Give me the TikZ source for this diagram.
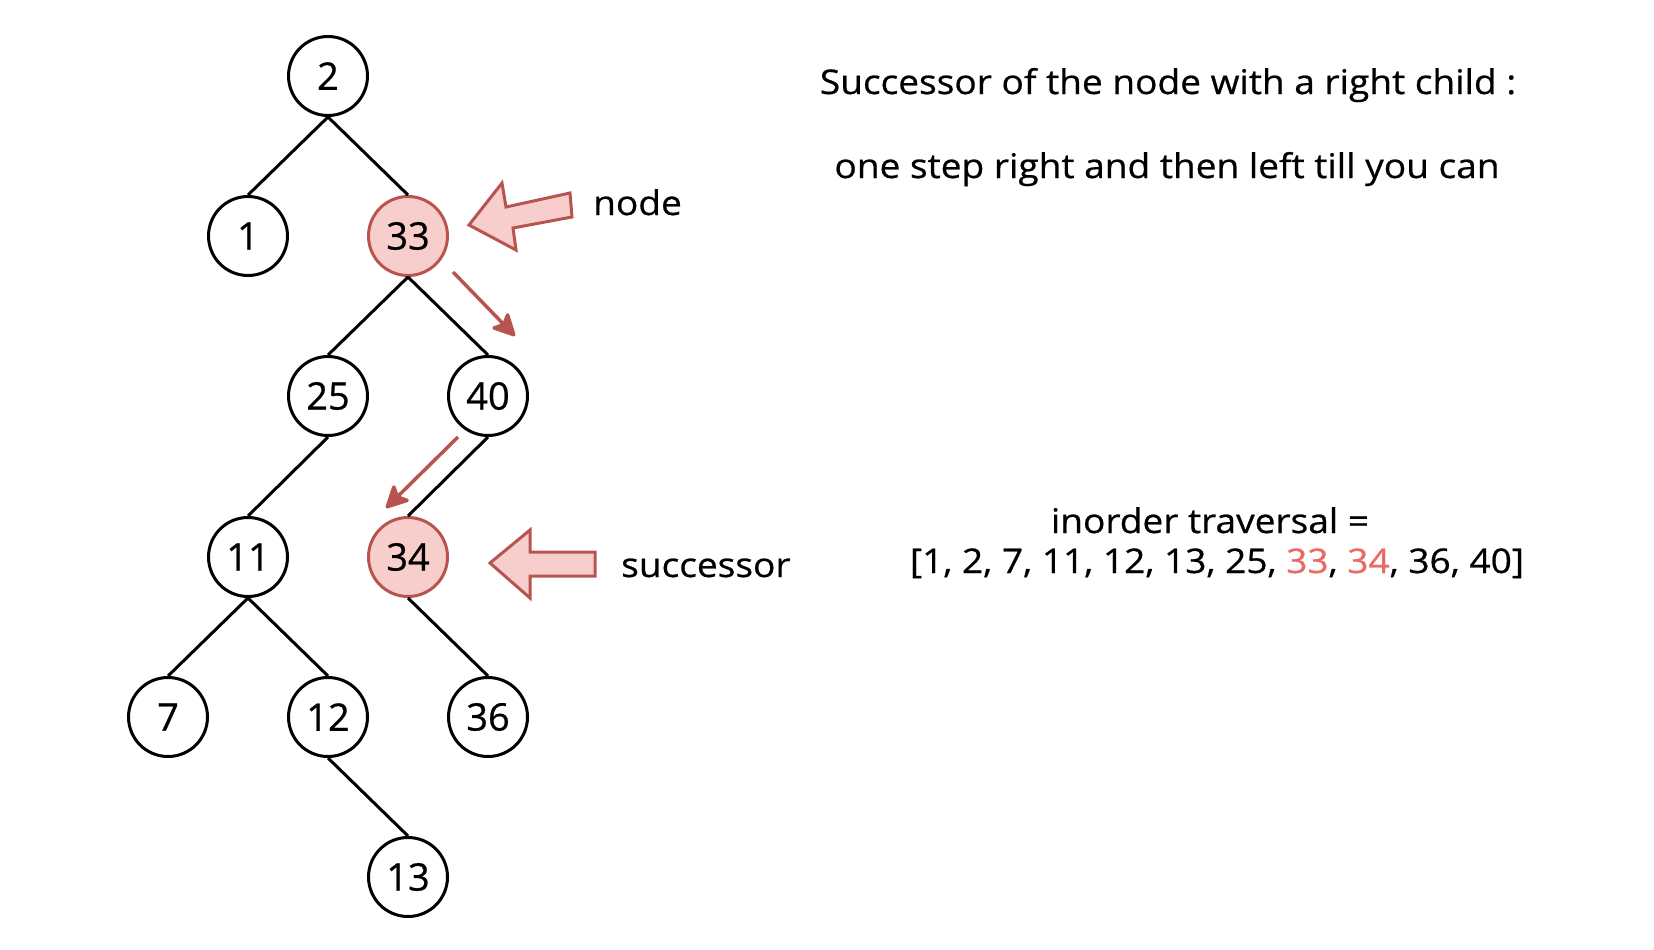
\documentclass[tikz,border=0pt]{standalone}
\usepackage{fontspec}
\setmainfont{Open Sans}[FakeBold=0.6]
\newfontfamily\widefont{Open Sans}[FakeStretch=1.09,FakeBold=0.6]
\usetikzlibrary{arrows.meta}
\definecolor{redline}{HTML}{B85450}
\definecolor{redfill}{HTML}{F8CECC}
\definecolor{redtext}{HTML}{EA6B66}
\begin{document}
\begin{tikzpicture}[x=1pt,y=-1pt,
  tn/.style={circle,draw=black,line width=3pt,minimum size=79pt,inner sep=0pt,
    font=\fontsize{38}{42}\selectfont},
  hl/.style={tn,draw=redline,fill=redfill},
  edge/.style={draw=black,line width=3pt},
  txt/.style={inner sep=0pt,anchor=base,font=\widefont\fontsize{34}{40}\selectfont},
  blockarrow/.style={draw=redline,fill=redfill,line width=3pt,line join=miter},
  movearrow/.style={draw=redline,line width=3.5pt,
    -{Stealth[length=26pt,width=26pt,inset=6pt,round=false]}}]
\useasboundingbox (0,0) rectangle (1654,950);
% tree nodes
\node[tn] (n2)  at (328,76)  {2};
\node[tn] (n1)  at (248,236) {1};
\node[hl] (n33) at (408,236) {33};
\node[tn] (n25) at (328,396) {25};
\node[tn] (n40) at (488,396) {40};
\node[tn] (n11) at (248,557) {11};
\node[hl] (n34) at (408,557) {34};
\node[tn] (n7)  at (168,717) {7};
\node[tn] (n12) at (328,717) {12};
\node[tn] (n36) at (488,717) {36};
\node[tn] (n13) at (408,877) {13};
% edges
\draw[edge] (n2.south) -- (n1.north);
\draw[edge] (n2.south) -- (n33.north);
\draw[edge] (n33.south) -- (n25.north);
\draw[edge] (n33.south) -- (n40.north);
\draw[edge] (n25.south) -- (n11.north);
\draw[edge] (n40.south) -- (n34.north);
\draw[edge] (n11.south) -- (n7.north);
\draw[edge] (n11.south) -- (n12.north);
\draw[edge] (n34.south) -- (n36.north);
\draw[edge] (n12.south) -- (n13.north);
% move arrows
\coordinate (a1s) at (453,272);
\coordinate (a1e) at (515,336);
\coordinate (a2s) at (458,437);
\coordinate (a2e) at (386,508);
\draw[movearrow] (a1s) -- (a1e);
\draw[movearrow] (a2s) -- (a2e);
% block arrows
\draw[blockarrow] (469,225) -- (502,183) -- (506,207) -- (570,193) -- (572,217)
  -- (513,228) -- (516,250) -- cycle;
\draw[blockarrow] (490,563) -- (530,530) -- (530,552) -- (595,552) -- (595,576)
  -- (530,576) -- (530,598) -- cycle;
% labels
\node[txt,anchor=base west] (lnode) at (593,215) {node};
\node[txt,anchor=base west] (lsucc) at (621,577) {successor};
\node[txt] (t1) at (1168,94) {Successor of the node with a right child :};
\node[txt] (t2) at (1167,178) {one step right and then left till you can};
\node[txt] (t3) at (1210,533) {inorder traversal =};
\node[txt] (t4) at (1217,573) {[1, 2, 7, 11, 12, 13, 25, \textcolor{redtext}{33}, \textcolor{redtext}{34}, 36, 40]};
\end{tikzpicture}
\end{document}
